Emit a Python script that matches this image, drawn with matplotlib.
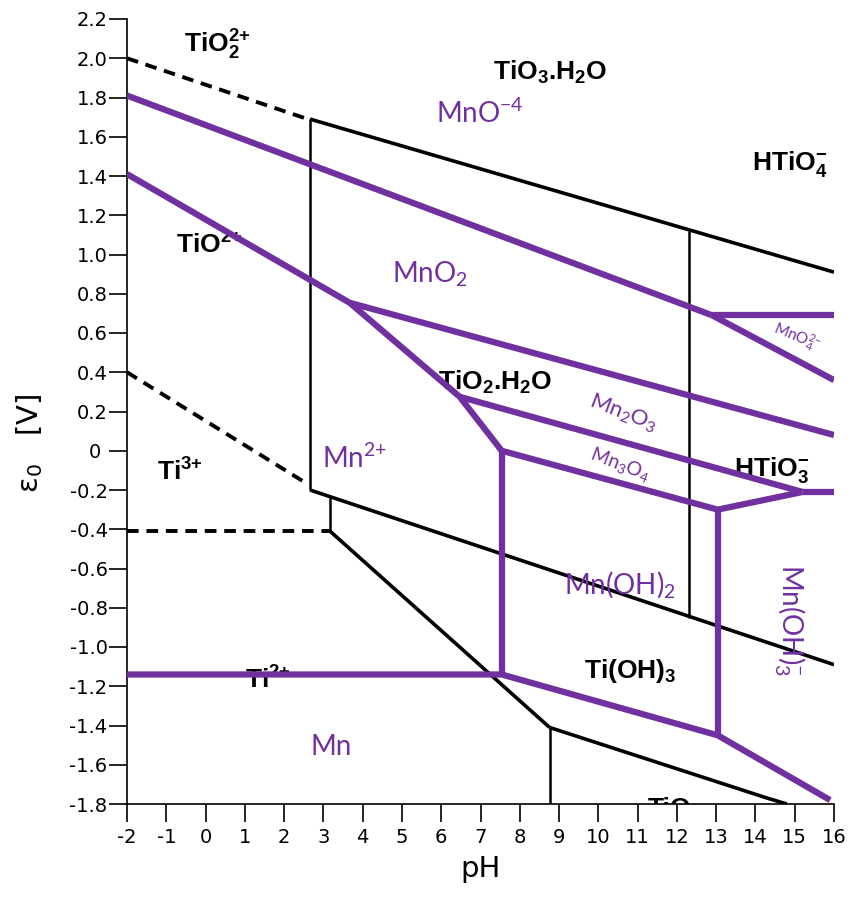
import matplotlib
matplotlib.use("Agg")
import matplotlib.pyplot as plt

# --- Ti Pourbaix boundaries (pH, E) ---
ti_dashed = [
    ([-2, 2.6], [2.00, 1.69]),
    ([-2, 2.6], [0.40, -0.17]),
    ([-2, 3.17], [-0.41, -0.41]),
]
ti_thick = [
    ([2.66, 16], [1.69, 0.91]),
    ([2.66, 16], [-0.20, -1.09]),
    ([3.17, 8.76], [-0.41, -1.41]),
    ([8.76, 14.3, 14.8], [-1.41, -1.77, -1.80]),
]
ti_thin = [
    ([2.66, 2.66], [1.69, -0.20]),
    ([3.17, 3.17], [-0.234, -0.41]),
    ([8.76, 8.76], [-1.41, -1.80]),
    ([12.3, 12.3], [1.12, -0.85]),
]

# --- Mn Pourbaix boundaries (pH, E) ---
mn_lines = [
    ([-2, 12.9], [1.81, 0.69]),
    ([12.9, 16], [0.69, 0.69]),
    ([12.9, 16], [0.69, 0.36]),
    ([-2, 3.67, 6.47, 7.54], [1.41, 0.754, 0.275, 0.0]),
    ([3.67, 16], [0.754, 0.08]),
    ([6.47, 15.2], [0.275, -0.21]),
    ([15.2, 16], [-0.21, -0.21]),
    ([7.54, 13.04, 15.2], [0.0, -0.30, -0.21]),
    ([7.54, 7.54], [0.0, -1.14]),
    ([13.04, 13.04], [-0.30, -1.45]),
    ([-2, 7.54, 13.04, 15.9], [-1.14, -1.14, -1.45, -1.78]),
]

ti_names = [r"$\mathregular{TiO_2^{2{+}}}$", r"TiO$\mathregular{_3}$.H$\mathregular{_2}$O",
            r"$\mathregular{HTiO_4^{{-}}}$", r"$\mathregular{TiO^{2{+}}}$",
            r"TiO$\mathregular{_2}$.H$\mathregular{_2}$O", r"$\mathregular{HTiO_3^{{-}}}$",
            r"$\mathregular{Ti^{3{+}}}$", r"$\mathregular{Ti^{2{+}}}$",
            r"$\mathregular{Ti(OH)_3}$", "TiO"]
mn_names = [r"$\mathregular{MnO^{{-}4}}$", r"$\mathregular{MnO_2}$",
            r"$\mathregular{Mn^{2{+}}}$", r"$\mathregular{Mn_2O_3}$",
            r"$\mathregular{Mn_3O_4}$", r"$\mathregular{MnO_4^{2{-}}}$",
            r"$\mathregular{Mn(OH)_2}$", r"$\mathregular{Mn(OH)^{{-}}_{3}}$",
            "Mn"]

x_ticks = list(range(-2, 17))
y_ticks = [2.2, 2.0, 1.8, 1.6, 1.4, 1.2, 1.0, 0.8, 0.6, 0.4, 0.2, 0,
           -0.2, -0.4, -0.6, -0.8, -1.0, -1.2, -1.4, -1.6, -1.8]

purple = "#7030A0"
ti_font = ["Liberation Sans", "DejaVu Sans"]
mn_font = ["Lato", "DejaVu Sans"]

fig = plt.figure(figsize=(8.51, 8.98), dpi=100)
ax = fig.add_axes([127 / 851, 1 - 804 / 898, 707 / 851, 785 / 898])

for xs, ys in ti_dashed:
    ax.plot(xs, ys, color="black", lw=2.8, ls=(0, (3, 2)), zorder=2)
for xs, ys in ti_thick:
    ax.plot(xs, ys, color="black", lw=2.6, zorder=2, solid_capstyle="butt")
for xs, ys in ti_thin:
    ax.plot(xs, ys, color="black", lw=1.8, zorder=2, solid_capstyle="butt")
for xs, ys in mn_lines:
    ax.plot(xs, ys, color=purple, lw=4.5, zorder=4, solid_joinstyle="miter",
            solid_capstyle="butt")

# labels
ti_pos = [(0.3, 2.07), (8.76, 1.93), (14.87, 1.46), (0.1, 1.05), (7.36, 0.35),
          (14.4, -0.1), (-0.65, -0.11), (1.59, -1.17), (10.8, -1.12), (11.8, -1.765)]
for name, (px, py) in zip(ti_names, ti_pos):
    va = "top" if name == "TiO" else "center"
    ax.text(px, py, name, family=ti_font, weight="bold", fontsize=19,
            ha="center", va=va, zorder=3, clip_on=True)

mn_pos = [(6.98, 1.72), (5.71, 0.90), (3.8, -0.04), (10.62, 0.19), (10.55, -0.07),
          (15.05, 0.58), (10.54, -0.68), (14.87, -0.86), (3.2, -1.51)]
mn_size = [20, 20, 20, 16, 14, 11, 20, 20, 20]
mn_rot = [0, 0, 0, -21, -21, -22, 0, -90, 0]
for name, (px, py), fs, rot in zip(mn_names, mn_pos, mn_size, mn_rot):
    ax.text(px, py, name, family=mn_font, fontsize=fs, color=purple,
            rotation=rot, ha="center", va="center", zorder=5)

ax.set_xlim(-2, 16)
ax.set_ylim(-1.8, 2.2)
ax.set_xticks(x_ticks)
ax.set_xticklabels([str(v) for v in x_ticks])
ax.set_yticks(y_ticks)
ax.set_yticklabels(["0 " if v == 0 else f"{v:.1f}" for v in y_ticks])
ax.tick_params(direction="out", length=13, width=1.2, labelsize=14, pad=1)
ax.tick_params(axis="x", pad=4)
for s in ("top", "right"):
    ax.spines[s].set_visible(False)
for s in ("left", "bottom"):
    ax.spines[s].set_linewidth(1.2)

ax.set_xlabel("pH", fontsize=21, labelpad=6)
fig.text(30 / 851, 1 - 443 / 898, "ε$_0$   [V]", fontsize=21, rotation=90,
         ha="center", va="center")

fig.savefig("out.png", dpi=100)
